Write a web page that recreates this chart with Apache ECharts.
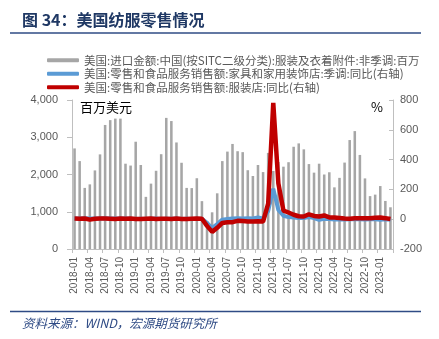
<!DOCTYPE html>
<html><head><meta charset="utf-8">
<script src="https://cdn.jsdelivr.net/npm/echarts@6/dist/echarts.min.js"></script>
<style>html,body{margin:0;padding:0;background:#fff}#c{width:439px;height:339px}</style>
</head><body><div id="c"></div>
<script>
const months = [
'2018-01','2018-02','2018-03','2018-04','2018-05','2018-06','2018-07','2018-08','2018-09','2018-10','2018-11','2018-12',
'2019-01','2019-02','2019-03','2019-04','2019-05','2019-06','2019-07','2019-08','2019-09','2019-10','2019-11','2019-12',
'2020-01','2020-02','2020-03','2020-04','2020-05','2020-06','2020-07','2020-08','2020-09','2020-10','2020-11','2020-12',
'2021-01','2021-02','2021-03','2021-04','2021-05','2021-06','2021-07','2021-08','2021-09','2021-10','2021-11','2021-12',
'2022-01','2022-02','2022-03','2022-04','2022-05','2022-06','2022-07','2022-08','2022-09','2022-10','2022-11','2022-12',
'2023-01','2023-02','2023-03'];

const importsChina = [
2700,2360,1640,1735,2110,2540,3330,3460,3500,3500,2290,2240,
2880,2255,1400,1755,2100,2545,3520,3435,2860,2315,1640,1635,
1900,1285,750,985,1495,2360,2615,2820,2625,2600,2115,1960,
2255,2065,2580,2095,2335,2210,2330,2745,2835,2675,2280,2050,
2290,2000,2060,1655,1910,2320,2925,3165,2525,1895,1420,1460,
1690,1290,1120];

const furnitureYoY = [
5,4,6,4,4,5,6,5,4,5,4,3,
2,3,2,3,4,2,3,3,4,2,3,2,
3,2,-25,-60,-32,-3,2,5,7,5,6,5,
12,5,55,205,62,23,14,12,8,8,14,8,
-4,3,1,-2,-1,-2,-1,0,-1,-2,-1,0,
-3,-1,-2];

const clothingYoY = [
4,3,5,-3,3,5,4,3,2,4,3,4,
1,2,3,4,2,3,3,2,4,1,2,3,
4,3,-45,-85,-58,-25,-21,-20,-11,-12,-16,-16,
-14,-16,105,780,240,58,45,30,20,18,33,22,
18,25,12,11,8,5,3,6,7,6,6,10,
11,7,1];

const leftTicks = [0, 1000, 4000];
const rightTicks = [-200, 800, 200];
const seriesNames = [
  '美国:进口金额:中国(按SITC二级分类):服装及衣着附件:非季调:百万',
  '美国:零售和食品服务销售额:家具和家用装饰店:季调:同比(右轴)',
  '美国:零售和食品服务销售额:服装店:同比(右轴)'
];
const titleText = '图 34：美国纺服零售情况';
const sourceText = '资料来源：WIND，宏源期货研究所';

const navy = '#2F4B85';
const axisGray = '#BFBFBF';
const labelGray = '#595959';

const chart = echarts.init(document.getElementById('c'), null, {renderer: 'canvas'});
chart.setOption({
  animation: false,
  backgroundColor: '#fff',
  textStyle: {fontFamily: 'Liberation Sans, Noto Sans CJK SC, sans-serif'},
  grid: {left: 72, right: 46, top: 100, bottom: 90, containLabel: false},
  legend: {
    orient: 'vertical', left: 42, top: 48.5, itemGap: 0,
    itemWidth: 32, itemHeight: 4, icon: 'roundRect', itemStyle: {borderWidth: 0},
    textStyle: {color: labelGray, fontSize: 11.5, lineHeight: 13.5, fontFamily: 'Noto Sans CJK SC'},
    data: seriesNames
  },
  xAxis: {
    type: 'category', data: months, boundaryGap: true,
    axisLine: {show: true, lineStyle: {color: axisGray, width: 1}},
    axisTick: {show: true, interval: 2, length: 4, lineStyle: {color: axisGray}},
    axisLabel: {interval: 2, rotate: 90, fontSize: 10, color: labelGray, margin: 8,
      fontFamily: 'Liberation Sans'}
  },
  yAxis: [
    {type: 'value', min: leftTicks[0], max: leftTicks[2], interval: leftTicks[1],
     axisLine: {show: true, lineStyle: {color: axisGray}},
     axisTick: {show: true, length: 5, lineStyle: {color: axisGray}},
     splitLine: {show: false},
     axisLabel: {fontSize: 11, color: labelGray, margin: 14,
       formatter: v => v.toLocaleString('en-US')}},
    {type: 'value', min: rightTicks[0], max: rightTicks[1], interval: rightTicks[2],
     axisLine: {show: true, lineStyle: {color: axisGray}},
     axisTick: {show: true, inside: true, length: 4, lineStyle: {color: axisGray}},
     splitLine: {show: false},
     axisLabel: {fontSize: 11, color: labelGray, margin: 7}}
  ],
  series: [
    {name: seriesNames[0], type: 'bar', data: importsChina, barWidth: '50%',
     itemStyle: {color: '#A6A6A6'}},
    {name: seriesNames[1], type: 'line', yAxisIndex: 1, data: furnitureYoY,
     symbol: 'none', lineStyle: {color: '#5B9BD5', width: 4}, itemStyle: {color: '#5B9BD5'}},
    {name: seriesNames[2], type: 'line', yAxisIndex: 1, data: clothingYoY,
     symbol: 'none', lineStyle: {color: '#C00000', width: 4.5}, itemStyle: {color: '#C00000'}}
  ],
  graphic: [
    {type: 'text', left: 22, top: 12, style: {text: titleText, fill: '#1F3864',
      font: 'bold 16px "Noto Sans CJK SC"'}},
    {type: 'line', shape: {x1: 10, y1: 33, x2: 421, y2: 33}, style: {stroke: navy, lineWidth: 1.5}},
    {type: 'text', left: 80, top: 101, style: {text: '百万美元', fill: '#000',
      font: '13px "Noto Sans CJK SC"'}},
    {type: 'text', left: 371, top: 101, style: {text: '%', fill: '#000',
      font: '13px "Noto Sans CJK SC"'}},
    {type: 'line', shape: {x1: 10, y1: 311.5, x2: 421, y2: 311.5}, style: {stroke: navy, lineWidth: 1.5}},
    {type: 'text', left: 22, top: 317, style: {text: sourceText, fill: navy,
      font: 'italic 12.5px "Noto Sans CJK SC"'}}
  ]
});
</script></body></html>
